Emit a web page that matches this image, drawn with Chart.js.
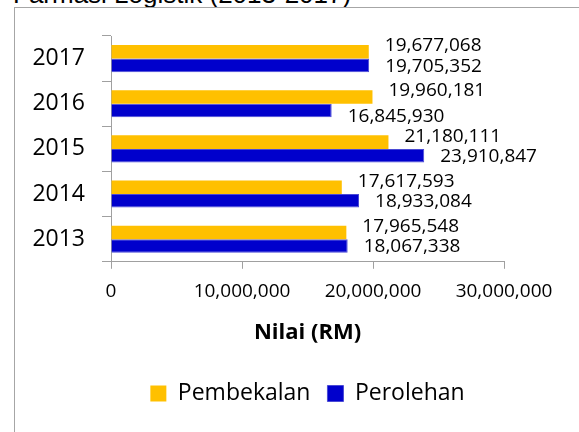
<!DOCTYPE html>
<html>
<head>
<meta charset="utf-8">
<script src="https://cdn.jsdelivr.net/npm/chart.js@4.4.0/dist/chart.umd.min.js"></script>
<style>
  html, body { margin: 0; padding: 0; background: #fff; overflow: hidden; width: 579px; height: 432px; }
  #frame { position: absolute; left: 14px; top: 7px; width: 700px; height: 600px; border: 1px solid #a6a6a6; }
  #caption { position: absolute; left: 13px; top: -19px; font: 26px "Liberation Sans", Arial, sans-serif; line-height: 26px; color: #000; white-space: nowrap; }
  #myChart { position: absolute; left: 0; top: 0; }
</style>
</head>
<body>
<div id="caption">Farmasi Logistik (2013-2017)</div>
<div id="frame"></div>
<canvas id="myChart" width="579" height="432"></canvas>
<script>
// values
var years = ["2013", "2014", "2015", "2016", "2017"];
var pembekalan = [17965548, 17617593, 21180111, 19960181, 19677068];
var perolehan = [18067338, 18933084, 23910847, 16845930, 19705352];
var xTicks = [0, 10000000, 20000000, 30000000];

var FONT = '"Open Sans", "Noto Sans", sans-serif';

// draws value labels at the end of each bar
var valueLabels = {
  id: "valueLabels",
  afterDatasetsDraw: function (chart) {
    var ctx = chart.ctx;
    ctx.save();
    ctx.font = "19px " + FONT;
    ctx.fillStyle = "#000";
    ctx.textAlign = "left";
    ctx.textBaseline = "middle";
    chart.data.datasets.forEach(function (ds, di) {
      var meta = chart.getDatasetMeta(di);
      meta.data.forEach(function (bar, i) {
        var dy = 1;
        if (di === 0) {
          dy = -6;
        } else if (ds.data[i] < chart.data.datasets[0].data[i]) {
          dy = 6; // pushed down when shorter than the bar above
        }
        ctx.fillText(ds.data[i].toLocaleString("en-US"), bar.x + 16, bar.y + dy);
      });
    });
    ctx.restore();
  }
};

window.onload = function () {
  var ctx = document.getElementById("myChart").getContext("2d");
  var myChart = new Chart(ctx, {
    type: "bar",
    data: {
      labels: years,
      datasets: [
        {
          label: "Pembekalan",
          data: pembekalan,
          backgroundColor: "#FFC000",
          borderWidth: 0
        },
        {
          label: "Perolehan",
          data: perolehan,
          backgroundColor: "#0000CC",
          borderColor: "#4A4AD6",
          borderWidth: 1
        }
      ]
    },
    options: {
      indexAxis: "y",
      responsive: false,
      animation: false,
      categoryPercentage: 0.6,
      barPercentage: 1,
      layout: { padding: { left: 0, right: 75, top: 36, bottom: 17 } },
      scales: {
        y: {
          reverse: true,
          afterFit: function (scale) { scale.width = 111; },
          grid: { display: true, offset: true, drawOnChartArea: false, tickLength: 9, color: "#a0a0a0" },
          border: { color: "#a0a0a0" },
          ticks: { padding: 17, color: "#000", font: { family: FONT, size: 23 } }
        },
        x: {
          min: 0,
          max: 30000000,
          afterBuildTicks: function (scale) {
            scale.ticks = xTicks.map(function (v) { return { value: v }; });
          },
          grid: { display: true, drawOnChartArea: false, tickLength: 7, color: "#a0a0a0" },
          border: { color: "#a0a0a0" },
          ticks: {
            padding: 11,
            color: "#000",
            maxRotation: 0,
            font: { family: FONT, size: 19 },
            callback: function (v) { return v.toLocaleString("en-US"); }
          },
          title: {
            display: true,
            text: "Nilai (RM)",
            color: "#000",
            font: { family: FONT, size: 22, weight: "bold" },
            padding: { top: 6, bottom: 19 }
          }
        }
      },
      plugins: {
        legend: {
          position: "bottom",
          fullSize: false,
          labels: {
            boxWidth: 16,
            boxHeight: 16,
            padding: 17,
            color: "#000",
            font: { family: FONT, size: 23 }
          }
        },
        tooltip: { enabled: false }
      }
    },
    plugins: [valueLabels]
  });
};
</script>
</body>
</html>
